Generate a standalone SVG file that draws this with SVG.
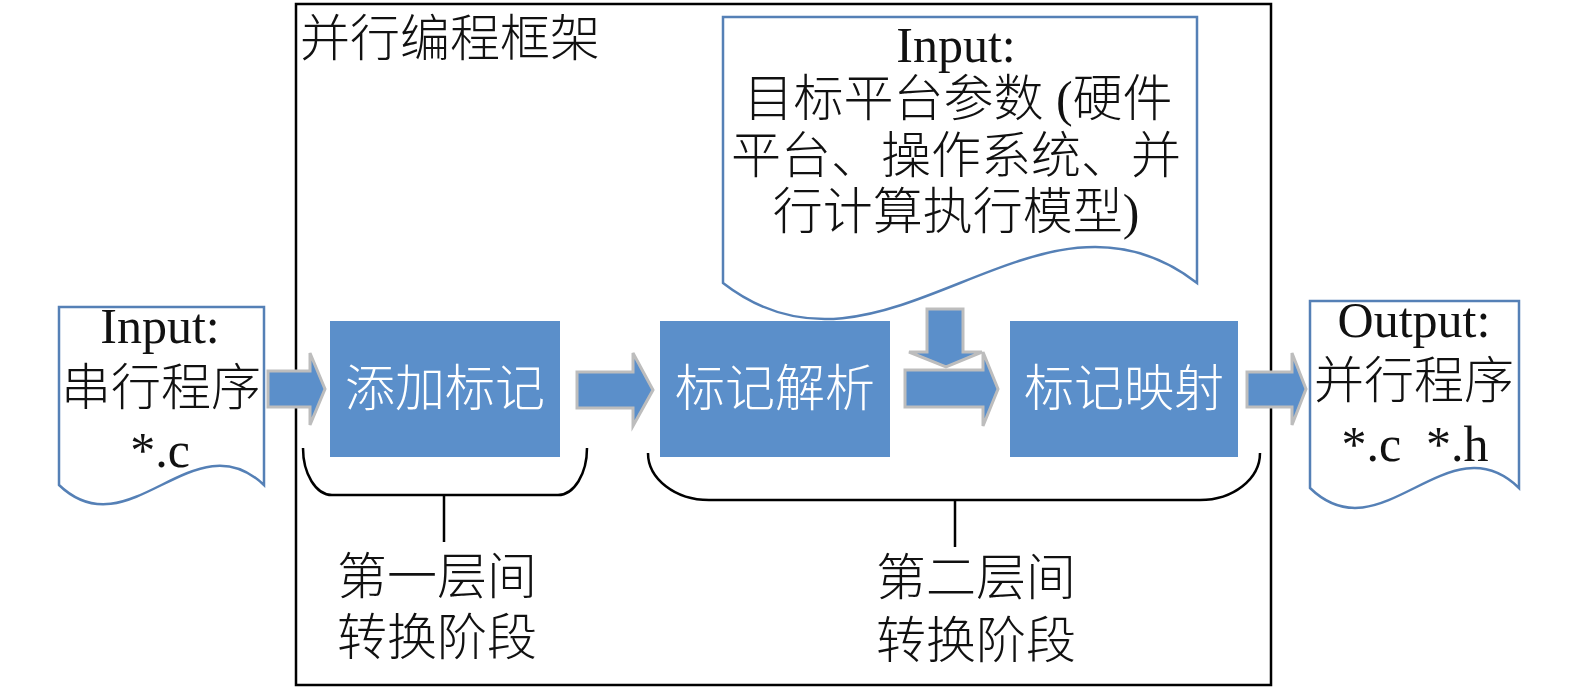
<svg xmlns="http://www.w3.org/2000/svg" width="1575" height="689" viewBox="0 0 1575 689">
<style>
.t{font-family:"Liberation Serif","Noto Sans CJK SC",serif;font-size:50px;font-weight:300;fill:#111}
.w{font-family:"Noto Sans CJK SC",sans-serif;font-size:50px;font-weight:300;fill:#fff}
.c{text-anchor:middle}
.doc{fill:#fff;stroke:#5580B6;stroke-width:2.5}
.box{fill:#5B8FCA}
.arr{fill:#5B8FCA;stroke:#BDBDBD;stroke-width:3;stroke-linejoin:miter}
.br{fill:none;stroke:#000;stroke-width:2.5}
</style>
<rect width="1575" height="689" fill="#fff"/>
<g id="frame">
<rect x="296" y="4" width="975" height="681" fill="none" stroke="#000" stroke-width="2.5"/>
<text class="t" x="300" y="56">并行编程框架</text>
</g>
<g id="input-serial">
<path class="doc" d="M59,307 H264 V485 C194,418 129,552 59,485 Z"/>
<text class="t c" x="160" y="343">Input:</text>
<text class="t c" x="161" y="405">串行程序</text>
<text class="t c" x="160" y="467">*.c</text>
</g>
<g id="input-platform">
<path class="doc" d="M723,17 H1197 V283 C1036,158 884,408 723,283 Z"/>
<text class="t c" x="956" y="62">Input:</text>
<text class="t c" x="958" y="116">目标平台参数 (硬件</text>
<text class="t c" x="956" y="173">平台、操作系统、并</text>
<text class="t c" x="956" y="229">行计算执行模型)</text>
</g>
<g id="output-parallel">
<path class="doc" d="M1310,301 H1519 V488 C1448,419 1381,557 1310,488 Z"/>
<text class="t c" x="1414" y="337">Output:</text>
<text class="t c" x="1414" y="398">并行程序</text>
<text class="t c" x="1415" y="461" xml:space="preserve">*.c  *.h</text>
</g>
<g id="add-mark">
<rect class="box" x="330" y="321" width="230" height="136"/>
<text class="w c" x="445" y="406">添加标记</text>
</g>
<g id="parse-mark">
<rect class="box" x="660" y="321" width="230" height="136"/>
<text class="w c" x="775" y="406">标记解析</text>
</g>
<g id="map-mark">
<rect class="box" x="1010" y="321" width="228" height="136"/>
<text class="w c" x="1124" y="406">标记映射</text>
</g>
<g id="connectors">
<path class="arr" d="M268,371 H310 V353 L325,389 L310,425 V407 H268 Z"/>
<path class="arr" d="M577,372 H633 V353 L653,390 L633,426 V408 H577 Z"/>
<path class="arr" d="M905,370 H983 V352 L998,389 L983,426 V407 H905 Z"/>
<path class="arr" d="M927,309 H963 V352 H982 L946,367 L909,352 H927 Z"/>
<path class="arr" d="M1247,372 H1292 V353 L1306,389 L1292,425 V407 H1247 Z"/>
<path class="br" d="M303,448 A29,47 0 0 0 332,495 H558 A29,47 0 0 0 587,448 M444,495 V542"/>
<path class="br" d="M648,453 A61,47 0 0 0 709,500 H1200 A60,47 0 0 0 1260,453 M955,500 V547"/>
</g>
<g id="stage1">
<text class="t" x="337" y="594">第一层间</text>
<text class="t" x="337" y="655">转换阶段</text>
</g>
<g id="stage2">
<text class="t" x="876" y="595">第二层间</text>
<text class="t" x="876" y="658">转换阶段</text>
</g>
</svg>
